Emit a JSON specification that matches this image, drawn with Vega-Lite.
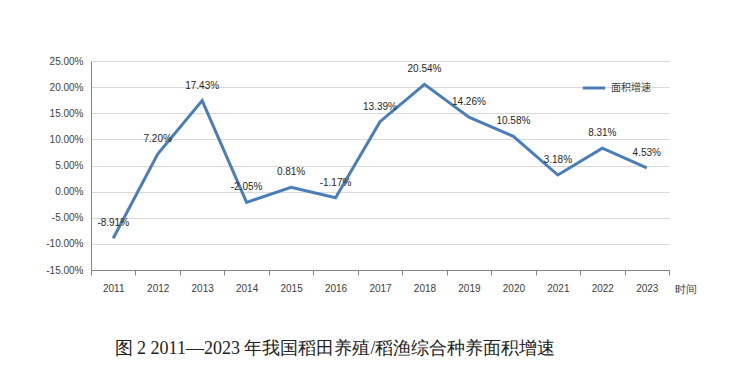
{
  "$schema": "https://vega.github.io/schema/vega-lite/v6.json",
  "width": 578,
  "height": 209,
  "autosize": "none",
  "padding": {"left": 91, "top": 61, "right": 81, "bottom": 118},
  "background": "white",
  "config": {
    "view": {"stroke": null},
    "font": "Liberation Sans",
    "locale": {
      "number": {
        "decimal": ".",
        "thousands": ",",
        "grouping": [3],
        "currency": ["$", ""],
        "minus": "-",
        "percent": "%"
      }
    }
  },
  "title": {
    "text": "图 2 2011—2023 年我国稻田养殖/稻渔综合种养面积增速",
    "orient": "bottom",
    "anchor": "middle",
    "dx": -45,
    "offset": 46,
    "font": "Liberation Serif",
    "fontSize": 18,
    "fontWeight": "normal",
    "color": "#222222"
  },
  "data": {
    "values": [
      {"year": "2011", "rate": -0.0891, "series": "面积增速"},
      {"year": "2012", "rate": 0.0720, "series": "面积增速"},
      {"year": "2013", "rate": 0.1743, "series": "面积增速"},
      {"year": "2014", "rate": -0.0205, "series": "面积增速"},
      {"year": "2015", "rate": 0.0081, "series": "面积增速"},
      {"year": "2016", "rate": -0.0117, "series": "面积增速"},
      {"year": "2017", "rate": 0.1339, "series": "面积增速"},
      {"year": "2018", "rate": 0.2054, "series": "面积增速"},
      {"year": "2019", "rate": 0.1426, "series": "面积增速"},
      {"year": "2020", "rate": 0.1058, "series": "面积增速"},
      {"year": "2021", "rate": 0.0318, "series": "面积增速"},
      {"year": "2022", "rate": 0.0831, "series": "面积增速"},
      {"year": "2023", "rate": 0.0453, "series": "面积增速"}
    ]
  },
  "encoding": {
    "x": {
      "field": "year",
      "type": "ordinal",
      "scale": {"type": "band", "paddingInner": 0, "paddingOuter": 0},
      "axis": {
        "title": "时间",
        "titleX": 583,
        "titleY": 19,
        "titleAlign": "left",
        "titleBaseline": "middle",
        "titleAngle": 0,
        "titleFontSize": 11,
        "titleFontWeight": "normal",
        "titleColor": "#404040",
        "labelAngle": 0,
        "labelFontSize": 10,
        "labelColor": "#404040",
        "labelPadding": 8,
        "tickBand": "extent",
        "ticks": true,
        "tickSize": 5,
        "tickColor": "#868686",
        "domainColor": "#868686",
        "grid": false
      }
    },
    "y": {
      "field": "rate",
      "type": "quantitative",
      "scale": {"domain": [-0.15, 0.25], "nice": false, "zero": false},
      "axis": {
        "title": null,
        "format": ".2%",
        "values": [-0.15, -0.10, -0.05, 0, 0.05, 0.10, 0.15, 0.20, 0.25],
        "labelFontSize": 10,
        "labelColor": "#404040",
        "labelPadding": 8,
        "ticks": false,
        "domainColor": "#868686",
        "grid": true,
        "gridColor": "#d9d9d9"
      }
    }
  },
  "layer": [
    {
      "mark": {"type": "line", "strokeWidth": 3},
      "encoding": {
        "stroke": {
          "field": "series",
          "type": "nominal",
          "scale": {"range": ["#4A7EBB"]},
          "legend": {
            "title": null,
            "orient": "none",
            "legendX": 490,
            "legendY": 14,
            "symbolType": "stroke",
            "symbolSize": 500,
            "symbolStrokeWidth": 3,
            "labelFontSize": 10,
            "labelColor": "#404040",
            "labelFont": "Noto Sans CJK SC"
          }
        }
      }
    },
    {
      "mark": {"type": "text", "dy": -15, "fontSize": 10, "color": "#262626"},
      "encoding": {
        "text": {"field": "rate", "type": "quantitative", "format": ".2%"}
      }
    }
  ]
}
